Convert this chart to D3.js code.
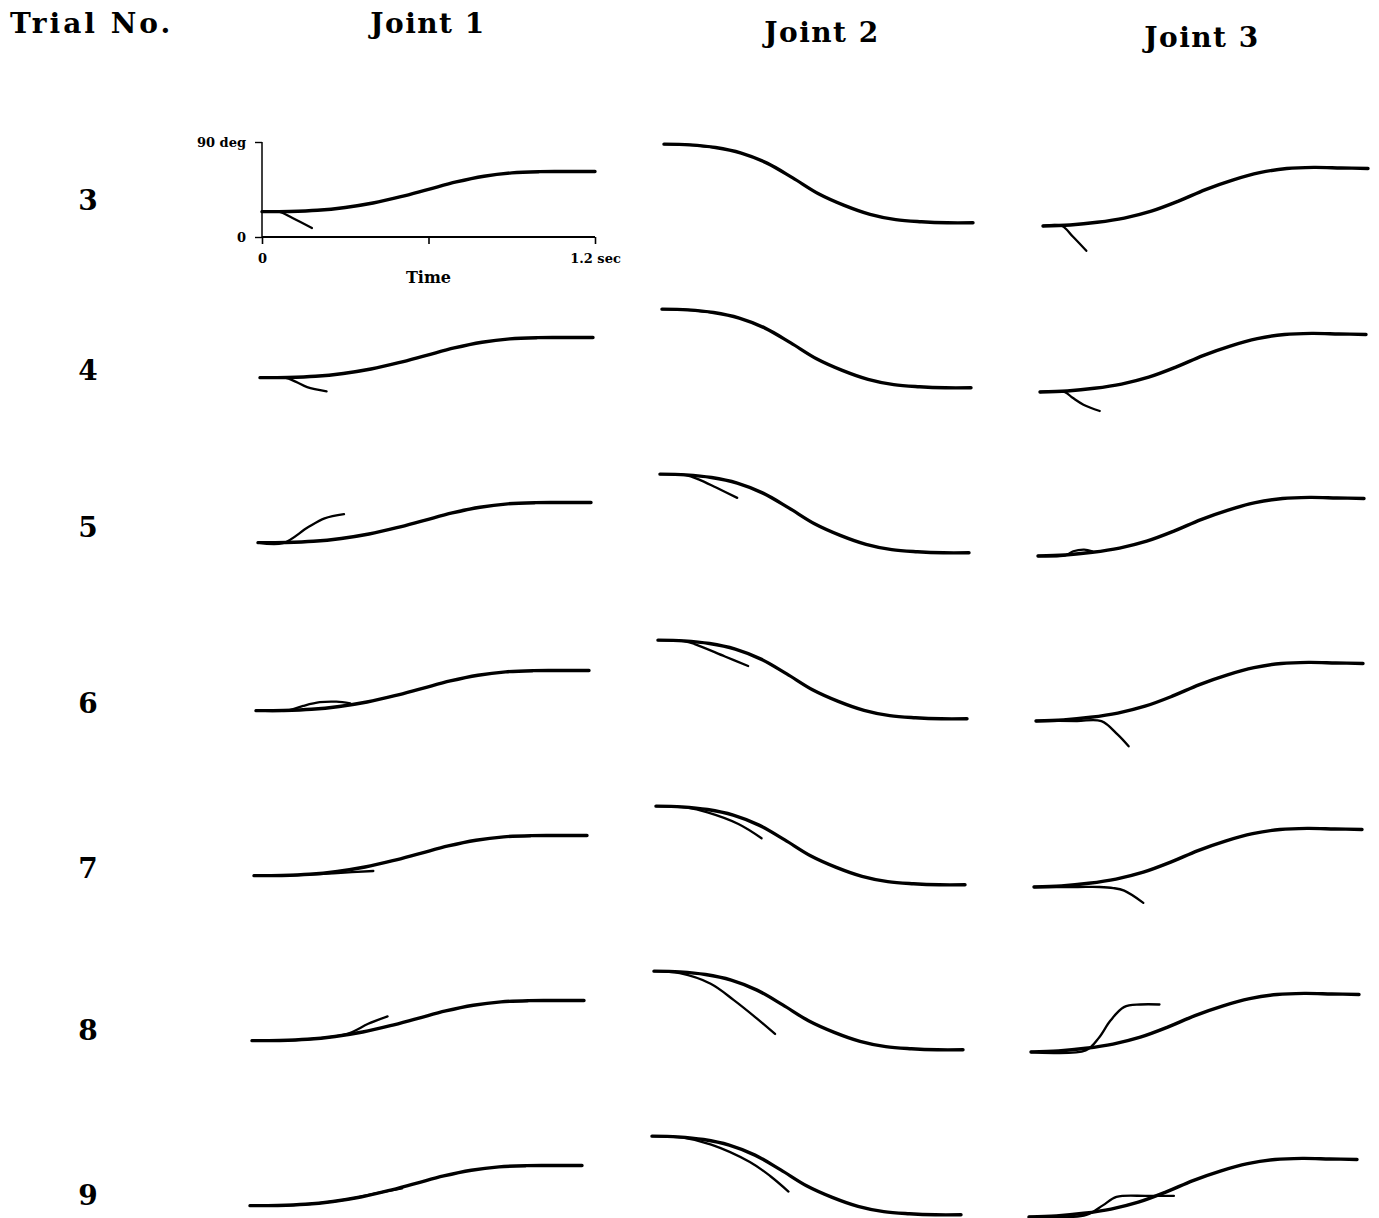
<!DOCTYPE html>
<html><head><meta charset="utf-8">
<script src="https://cdn.jsdelivr.net/npm/d3@7"></script>
<style>body{margin:0;background:#fff} svg{display:block}</style>
</head><body><svg id="chart" width="1379" height="1218"></svg>
<script>
// ---------- data ----------
const trials = [3, 4, 5, 6, 7, 8, 9];
const jointNames = ["Joint 1", "Joint 2", "Joint 3"];
const timeGrid = [0, 0.1, 0.2, 0.3, 0.4, 0.5, 0.6, 0.7, 0.8, 0.9, 1.0, 1.1, 1.2];
// desired joint angle (deg) at timeGrid
const desiredJoint1 = [24, 24.2, 25.3, 28, 32.2, 38.2, 45.2, 52.2, 57.6, 60.8, 61.9, 62, 62];
const desiredJoint2 = [88, 87.3, 84.8, 79.5, 70, 56, 41, 30, 21.5, 16.5, 14.5, 13.5, 13.5];
const desiredJoint3 = [11, 12, 14.5, 18.5, 25, 34.5, 45.5, 54.5, 61.5, 65.5, 66.5, 66, 65.5];
// actual trajectories per trial: [time (s), angle (deg)]
const actualJoint1 = [
  [[0,24],[0.06,24],[0.11,18],[0.18,8.5]],
  [[0,24],[0.09,24],[0.13,20],[0.17,15],[0.24,11]],
  [[0,24],[0.09,23.5],[0.18,38.5],[0.24,47],[0.31,51]],
  [[0,24],[0.12,24.5],[0.17,28.5],[0.23,32],[0.29,32.5],[0.34,31]],
  [[0,24],[0.17,24.8],[0.3,26.5],[0.43,28.4]],
  [[0,24],[0.2,25.3],[0.3,28],[0.36,32],[0.42,40],[0.49,47]],
  [[0,24],[0.2,25.2],[0.35,30],[0.45,35.5],[0.55,40.5]]
];
const actualJoint2 = [
  [[0,88],[0.1,87.3],[0.2,84.8]],
  [[0,88],[0.1,87.3],[0.2,84.8]],
  [[0,88],[0.1,87],[0.15,83],[0.22,75],[0.3,65.5]],
  [[0,88],[0.1,87],[0.14,84.5],[0.26,72.5],[0.35,63.5]],
  [[0,88],[0.12,86.5],[0.2,82],[0.32,71],[0.41,57.5]],
  [[0,88],[0.1,86],[0.22,76],[0.31,60.5],[0.4,43],[0.47,28.5]],
  [[0,88],[0.12,86.5],[0.23,80],[0.38,63.5],[0.46,50],[0.53,35.5]]
];
const actualJoint3 = [
  [[0,11],[0.07,11],[0.11,1],[0.16,-12.5]],
  [[0,11],[0.09,11],[0.12,5.5],[0.16,-1],[0.22,-7]],
  [[0,11],[0.1,11.5],[0.13,15.5],[0.17,17],[0.2,15.5]],
  [[0,11],[0.15,11],[0.24,10.8],[0.3,-2],[0.34,-13]],
  [[0,11],[0.16,11],[0.24,11],[0.29,10],[0.33,7.5],[0.4,-4]],
  [[0,11],[0.2,12.5],[0.25,25],[0.29,40.5],[0.34,53.5],[0.4,56],[0.47,56]],
  [[0,11],[0.21,13],[0.27,22],[0.32,30],[0.43,31],[0.53,31]]
];
const timeTicks = [0, 0.6, 1.2];
const timeTickLabels = ["0", "", "1.2 sec"];
const angleTicks = [0, 90];
const angleTickLabels = ["0", "90 deg"];
const timeTitle = "Time";
const rowTitle = "Trial No.";

// ---------- layout (page is a slightly skewed scan) ----------
const panelLeft  = [[262,260,258,256,254,252,250],[664,662,660,658,656,654,652],[1043,1040,1038,1036,1034,1031,1029]];
const panelRight = [[595,593,591,589,587,584,582],[973,971,969,967,965,963,961],[1368,1366,1364,1363,1362,1359,1357]];
const panelZero  = [[237,403,568,736,901,1066,1231],[237,402,567,733,899,1064,1229],[237.6,403.6,567.6,732.6,898.6,1063.6,1228.6]];
const degSpanPx = 95;
const headerPos = [[428,33],[822,42],[1202,47]];
const trialLabelY = [210,380,537,713,878,1040,1205];

const desired = [desiredJoint1, desiredJoint2, desiredJoint3];
const actual = [actualJoint1, actualJoint2, actualJoint3];

const svg = d3.select("#chart");
const FONT = "'DejaVu Serif', serif";

svg.append("text").attr("x", 10).attr("y", 33)
  .attr("font-family", FONT).attr("font-weight", "bold").attr("font-size", 28)
  .attr("letter-spacing", 3)
  .text(rowTitle);
jointNames.forEach((n, j) => {
  svg.append("text").attr("x", headerPos[j][0]).attr("y", headerPos[j][1])
    .attr("text-anchor", "middle")
    .attr("font-family", FONT).attr("font-weight", "bold").attr("font-size", 28)
    .attr("letter-spacing", 1.5)
    .text(n);
});
trials.forEach((tr, i) => {
  svg.append("text").attr("x", 88).attr("y", trialLabelY[i])
    .attr("text-anchor", "middle")
    .attr("font-family", FONT).attr("font-weight", "bold").attr("font-size", 28)
    .text(tr);
});

for (let j = 0; j < 3; j++) {
  for (let i = 0; i < trials.length; i++) {
    const x = d3.scaleLinear().domain([0, 1.2]).range([panelLeft[j][i], panelRight[j][i]]);
    const y = d3.scaleLinear().domain([0, 90]).range([panelZero[j][i], panelZero[j][i] - degSpanPx]);
    const smooth = d3.line().x(d => x(d[0])).y(d => y(d[1])).curve(d3.curveCatmullRom.alpha(0.5));
    const g = svg.append("g");
    if (j === 0 && i === 0) {
      const xa = d3.axisBottom(x).tickValues(timeTicks).tickSize(7)
        .tickFormat((d, k) => timeTickLabels[k]);
      const ga = g.append("g").attr("transform", `translate(0,${y(0)})`).call(xa);
      ga.select(".domain").attr("stroke-width", 2.2).attr("d", `M${x(0)},0H${x(1.2)}`);
      ga.selectAll(".tick line").attr("stroke-width", 1.6);
      ga.selectAll(".tick text").attr("font-family", FONT).attr("font-weight", "bold")
        .attr("font-size", 13).attr("dy", "1.2em");
      const ya = d3.axisLeft(y).tickValues(angleTicks).tickSize(7)
        .tickFormat((d, k) => angleTickLabels[k]);
      const gy = g.append("g").attr("transform", `translate(${x(0)},0)`).call(ya);
      gy.select(".domain").attr("stroke-width", 1.5).attr("d", `M0,${y(90)}V${y(0)}`);
      gy.selectAll(".tick line").attr("stroke-width", 1.4);
      gy.selectAll(".tick text").attr("font-family", FONT).attr("font-weight", "bold")
        .attr("font-size", 13).attr("dx", "-6");
      g.append("text").attr("x", x(0.6)).attr("y", y(0) + 46)
        .attr("text-anchor", "middle").attr("font-family", FONT).attr("font-weight", "bold")
        .attr("font-size", 16).text(timeTitle);
    }
    g.append("path").datum(timeGrid.map((t, k) => [t, desired[j][k]]))
      .attr("d", smooth).attr("fill", "none").attr("stroke", "#000")
      .attr("stroke-width", 3.4).attr("stroke-linecap", "round").attr("stroke-linejoin", "round");
    g.append("path").datum(actual[j][i])
      .attr("d", smooth).attr("fill", "none").attr("stroke", "#000")
      .attr("stroke-width", 2.3).attr("stroke-linecap", "round").attr("stroke-linejoin", "round");
  }
}
</script></body></html>
